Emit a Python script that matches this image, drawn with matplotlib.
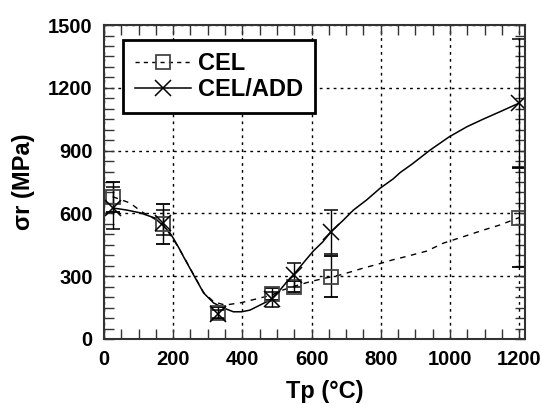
import matplotlib
matplotlib.use("Agg")
import matplotlib.pyplot as plt
from matplotlib.lines import Line2D
from matplotlib.ticker import MultipleLocator

plt.rcParams['font.family'] = ['Liberation Sans', 'DejaVu Sans']
plt.rcParams['font.weight'] = 'bold'

# Measured points
temps = [25, 170, 330, 485, 550, 655, 1200]
cel = [678, 549, 126, 215, 250, 298, 580]
cel_err = [72, 95, 29, 28, 27, 98, 235]
add = [626, 555, 118, 190, 306, 512, 1127]
add_err = [100, 60, 20, 35, 58, 105, 305]

# Fitted trend curves
cel_fit_t = [25, 75, 109, 140, 170, 200, 230, 259, 288, 317, 350, 398, 437, 485,
             517, 550, 596, 637, 683, 716, 750, 793, 832, 871, 933, 981, 1039,
             1096, 1145, 1200]
cel_fit_v = [680, 650, 608, 580, 549, 478, 395, 308, 222, 178, 162, 174, 190, 210,
             234, 252, 274, 290, 306, 322, 339, 358, 377, 393, 420, 458, 489,
             520, 545, 580]
add_fit_t = [25, 46, 66, 104, 147, 172, 191, 201, 220, 230, 259, 288, 317, 346,
             374, 398, 422, 451, 480, 509, 533, 552, 576, 605, 633, 656, 692, 721,
             759, 798, 836, 856, 890, 943, 998, 1049, 1097, 1145, 1200]
add_fit_v = [626, 621, 616, 603, 578, 540, 506, 480, 425, 393, 306, 220, 172, 148,
             130, 130, 138, 162, 186, 234, 282, 315, 363, 420, 465, 512, 568, 616,
             664, 720, 765, 795, 835, 903, 966, 1014, 1051, 1086, 1127]

fig = plt.figure(figsize=(5.41, 4.04), dpi=100)
ax = fig.add_axes([0.1922, 0.1609, 0.7782, 0.7771])

ax.plot(cel_fit_t, cel_fit_v, color='black', lw=1.0, ls=(0, (4, 4)))
ax.plot(add_fit_t, add_fit_v, color='black', lw=1.1, ls='-')

ax.errorbar(temps, cel, yerr=cel_err, fmt='s', ms=10, mfc='none', mec='#444444',
            mew=1.3, ecolor='black', elinewidth=1.0, capsize=5, capthick=1.0)
ax.errorbar(temps, add, yerr=add_err, fmt='x', ms=12, mec='black', mew=1.1,
            ecolor='black', elinewidth=1.0, capsize=5, capthick=1.0)

ax.set_xlim(0, 1217)
ax.set_ylim(0, 1500)
ax.xaxis.set_major_locator(MultipleLocator(200))
ax.xaxis.set_minor_locator(MultipleLocator(50))
ax.yaxis.set_major_locator(MultipleLocator(300))
ax.yaxis.set_minor_locator(MultipleLocator(50))
ax.tick_params(which='both', direction='in', top=True, right=True,
               length=7, width=1.0, color='#333333')
ax.tick_params(which='major', labelsize=14.5, pad=8)
for lab in ax.get_xticklabels() + ax.get_yticklabels():
    lab.set_fontweight('bold')

ax.grid(True, which='major', color='black', lw=1.0, ls=(0, (2, 3)))
for s in ax.spines.values():
    s.set_linewidth(1.5)
    s.set_color('#333333')

ax.set_xlabel('Tp (°C)', fontsize=17, fontweight='bold')
ax.xaxis.set_label_coords(0.525, -0.13)
ax.set_ylabel('σr (MPa)', fontsize=17, fontweight='bold')
ax.yaxis.set_label_coords(-0.165, 0.5)

handles = [
    Line2D([], [], color='black', lw=1.0, ls=(0, (3, 3)), marker='s', ms=10,
           mfc='none', mec='#444444', mew=1.3),
    Line2D([], [], color='black', lw=1.1, ls='-', marker='x', ms=12, mew=1.1),
]
leg = ax.legend(handles, ['CEL', 'CEL/ADD'], loc='upper left',
                bbox_to_anchor=(0.045, 0.952), borderaxespad=0, fancybox=False,
                framealpha=1, edgecolor='black', handlelength=2.4,
                handletextpad=0.3, borderpad=0.5, labelspacing=0.15,
                prop={'size': 17, 'weight': 'bold'})
leg.get_frame().set_linewidth(2.0)

fig.savefig('out.png', dpi=100)
